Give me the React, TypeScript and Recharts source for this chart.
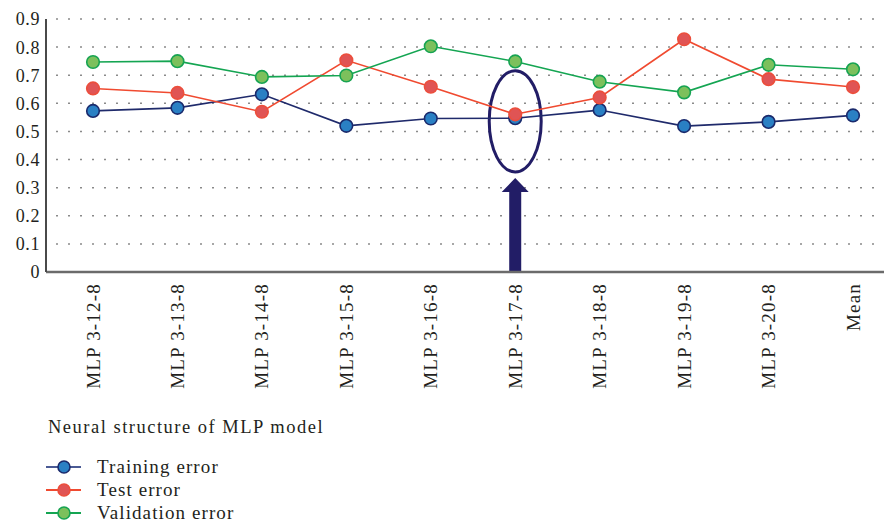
import {
  LineChart,
  Line,
  XAxis,
  YAxis,
  CartesianGrid,
  ReferenceLine,
} from "recharts";

const categories = [
  "MLP 3-12-8",
  "MLP 3-13-8",
  "MLP 3-14-8",
  "MLP 3-15-8",
  "MLP 3-16-8",
  "MLP 3-17-8",
  "MLP 3-18-8",
  "MLP 3-19-8",
  "MLP 3-20-8",
  "Mean",
];

const training = [0.573, 0.584, 0.632, 0.52, 0.546, 0.547, 0.576, 0.519, 0.534, 0.557];
const test = [0.653, 0.637, 0.57, 0.753, 0.659, 0.561, 0.621, 0.828, 0.686, 0.658];
const validation = [0.747, 0.75, 0.694, 0.699, 0.803, 0.749, 0.677, 0.639, 0.737, 0.721];

const yTicks = [0, 0.1, 0.2, 0.3, 0.4, 0.5, 0.6, 0.7, 0.8, 0.9];

// the highlighted structure + where the ellipse / arrow sit (data units)
const picked = "MLP 3-17-8";
const ellipseRange = [0.356, 0.716];
const arrowTop = 0.334;

const xTitle = "Neural structure of MLP model";

const SERIES = [
  { key: "training", name: "Training error", line: "#1f2a6b", fill: "#2a80c4", dot: "#1a2a6c", legendLine: "#4a5a94" },
  { key: "test", name: "Test error", line: "#f04a30", fill: "#e05454", dot: "#ec4e3c", legendLine: "#f04a30" },
  { key: "validation", name: "Validation error", line: "#14a552", fill: "#7cc05c", dot: "#16a352", legendLine: "#14a552" },
];

const data = categories.map((c, i) => ({
  name: c,
  training: training[i],
  test: test[i],
  validation: validation[i],
}));

const FONT = '"Liberation Serif", "Times New Roman", serif';
const NAVY = "#221d66";

const XTick = ({ x, y, payload }: any) => (
  <g transform={`translate(${x},${y + 3}) rotate(-90)`}>
    <text
      textAnchor="end"
      dominantBaseline="central"
      fontFamily={FONT}
      fontSize={19}
      letterSpacing={1.2}
      fill="#231f20"
    >
      {payload.value}
    </text>
  </g>
);

const Arrow = (p: any) => {
  const x = p.x1;
  const yb = Math.max(p.y1, p.y2);
  const tip = Math.min(p.y1, p.y2);
  const h = tip + 14;
  return (
    <path
      d={`M${x - 6},${yb} L${x - 6},${h} L${x - 13.5},${h} L${x},${tip} L${x + 13.5},${h} L${x + 6},${h} L${x + 6},${yb} Z`}
      fill={NAVY}
    />
  );
};

const Oval = (p: any) => (
  <ellipse
    cx={p.x1}
    cy={(p.y1 + p.y2) / 2}
    rx={26}
    ry={Math.abs(p.y1 - p.y2) / 2}
    fill="none"
    stroke={NAVY}
    strokeWidth={3}
  />
);

export default function App() {
  return (
    <div style={{ position: "relative", width: 884, height: 522, background: "#fff", fontFamily: FONT, overflow: "hidden" }}>
      <style>{`body{margin:0}`}</style>
      <LineChart
        width={884}
        height={410}
        data={data}
        margin={{ top: 19, right: 0, left: 0, bottom: 0 }}
      >
        <CartesianGrid vertical={false} strokeDasharray="2 10" strokeDashoffset={2} stroke="#8a8a8a" strokeWidth={1.5} />
        <XAxis
          dataKey="name"
          height={138}
          interval={0}
          padding={{ left: 47, right: 31 }}
          tickLine={false}
          axisLine={{ stroke: "#6b6b6b", strokeWidth: 2.5 }}
          tick={<XTick />}
        />
        <YAxis
          width={46}
          domain={[0, 0.9]}
          ticks={yTicks}
          tickLine={false}
          tickSize={4}
          tickMargin={2}
          axisLine={{ stroke: "#4a4a4a", strokeWidth: 2 }}
          tickFormatter={(v: number) => (v === 0 ? "0" : v.toFixed(1))}
          tick={{ fontFamily: FONT, fontSize: 18, fill: "#231f20", letterSpacing: 0.6 }}
        />
        <ReferenceLine
          segment={[
            { x: picked, y: 0 },
            { x: picked, y: arrowTop },
          ]}
          shape={Arrow}
        />
        <ReferenceLine
          segment={[
            { x: picked, y: ellipseRange[0] },
            { x: picked, y: ellipseRange[1] },
          ]}
          shape={Oval}
        />
        {SERIES.map((s) => (
          <Line
            key={s.key}
            type="linear"
            dataKey={s.key}
            name={s.name}
            stroke={s.line}
            strokeWidth={1.6}
            dot={{ r: 6.3, fill: s.fill, stroke: s.dot, strokeWidth: 1.6 }}
            isAnimationActive={false}
          />
        ))}
      </LineChart>

      <div style={{ position: "absolute", left: 48, top: 417, fontSize: 18.5, letterSpacing: 1.5, color: "#231f20" }}>
        {xTitle}
      </div>
      <div style={{ position: "absolute", left: 44, top: 455 }}>
        {SERIES.map((s) => (
          <div key={s.key} style={{ display: "flex", alignItems: "center", height: 23.3 }}>
            <svg width={40} height={16}>
              <line x1={2} y1={8} x2={37} y2={8} stroke={s.legendLine} strokeWidth={1.8} />
              <circle cx={20} cy={8} r={6} fill={s.fill} stroke={s.dot} strokeWidth={1.6} />
            </svg>
            <span style={{ marginLeft: 13, fontSize: 19, letterSpacing: 1.1, color: "#231f20", lineHeight: "20px" }}>{s.name}</span>
          </div>
        ))}
      </div>
    </div>
  );
}
